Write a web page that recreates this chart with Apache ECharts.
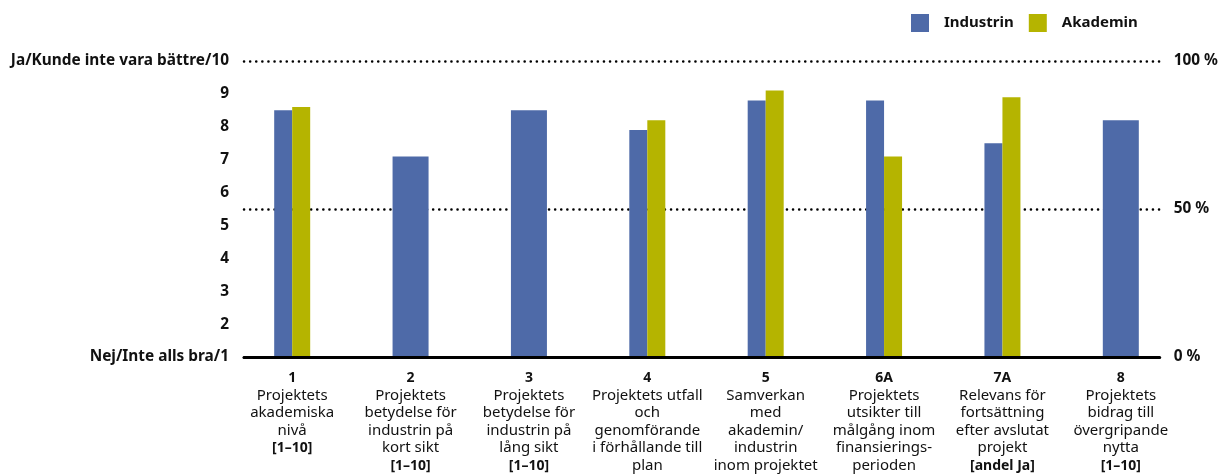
<!DOCTYPE html>
<html lang="sv">
<head>
<meta charset="UTF-8">
<title>Projektbedömning</title>
<style>
  html, body { margin: 0; padding: 0; background: #fff; }
  #chart { width: 1221px; height: 474px; }
</style>
</head>
<body>
<div id="chart"></div>
<script src="https://cdn.jsdelivr.net/npm/echarts@6/dist/echarts.min.js"></script>
<script>
// kategorier
var catNums = ['1', '2', '3', '4', '5', '6A', '7A', '8'];
var catTexts = [
  'Projektets\nakademiska\nnivå',
  'Projektets\nbetydelse för\nindustrin på\nkort sikt',
  'Projektets\nbetydelse för\nindustrin på\nlång sikt',
  'Projektets utfall\noch\ngenomförande\ni förhållande till\nplan',
  'Samverkan\nmed\nakademin/\nindustrin\ninom projektet',
  'Projektets\nutsikter till\nmålgång inom\nfinansierings-\nperioden',
  'Relevans för\nfortsättning\nefter avslutat\nprojekt',
  'Projektets\nbidrag till\növergripande\nnytta'
];
var catScales = ['[1–10]', '[1–10]', '[1–10]', '', '', '', '[andel Ja]', '[1–10]'];

// värden (skala 1-10)
var industrin = [8.5, 7.1, 8.5, 7.9, 8.8, 8.8, 7.5, 8.2];
var akademin = [8.6, null, null, 8.2, 9.1, 7.1, 8.9, null];

// axlar
var leftTicks = { 1: 'Nej/Inte alls bra/1', 10: 'Ja/Kunde inte vara bättre/10' };
var rightTicks = [0, 50, 100];

var blue = '#4e6aa8';
var olive = '#b5b400';
var font = 'Noto Sans';

// industrin delas upp: med akademin bredvid / ensam stapel
var indPair = industrin.map(function (v, i) { return akademin[i] == null ? null : v; });
var indSingle = industrin.map(function (v, i) { return akademin[i] == null ? v : null; });

function catLabel(value, idx) {
  var lines = ['{b|' + catNums[idx] + '}'];
  catTexts[idx].split('\n').forEach(function (t) { lines.push('{t|' + t + '}'); });
  if (catScales[idx]) lines.push('{b|' + catScales[idx] + '}');
  return lines.join('\n');
}

var chart = echarts.init(document.getElementById('chart'));
var option = {
  animation: false,
  textStyle: { fontFamily: font },
  legend: {
    data: ['Industrin', 'Akademin'],
    left: 906,
    top: 9,
    itemWidth: 18,
    itemHeight: 18,
    itemGap: 15,
    icon: 'rect',
    textStyle: { fontFamily: font, fontSize: 15, fontWeight: 'bold', color: '#111', padding: [0, 0, 0, 10] }
  },
  grid: [
    { left: 233, right: 41, top: 61, bottom: 117 },
    { left: 244, right: 58, top: 61, bottom: 117 }
  ],
  xAxis: [
    {
      type: 'category', gridIndex: 0, data: catNums,
      axisLine: { show: false }, axisTick: { show: false },
      axisLabel: {
        interval: 0, margin: 12, formatter: catLabel,
        rich: {
          b: { fontFamily: font, fontSize: 14, fontWeight: 'bold', color: '#111', lineHeight: 17.6 },
          t: { fontFamily: font, fontSize: 15, color: '#111', lineHeight: 17.6 }
        }
      }
    },
    { type: 'category', gridIndex: 0, data: catNums, show: false },
    {
      type: 'value', gridIndex: 1, min: 0, max: 1, z: 10,
      axisLine: { show: true, lineStyle: { color: '#000', width: 3 } },
      axisTick: { show: false }, axisLabel: { show: false }, splitLine: { show: false }
    }
  ],
  yAxis: [
    { type: 'value', gridIndex: 0, min: 1, max: 10, show: false },
    {
      type: 'value', gridIndex: 1, min: 1, max: 10, interval: 1, position: 'left',
      axisLine: { show: false }, axisTick: { show: false }, splitLine: { show: false },
      axisLabel: {
        margin: 15, color: '#111', fontFamily: font, fontSize: 15.4, fontWeight: 'bold',
        formatter: function (v) { return leftTicks[v] || String(v); }
      }
    },
    {
      type: 'value', gridIndex: 1, min: rightTicks[0], max: rightTicks[2], interval: 50, position: 'right',
      axisLine: { show: false }, axisTick: { show: false },
      axisLabel: {
        margin: 14, color: '#111', fontFamily: font, fontSize: 15.4, fontWeight: 'bold',
        formatter: '{value} %'
      },
      splitLine: { show: true, lineStyle: { color: '#000', width: 2.5, type: [0.1, 6], cap: 'round' } }
    }
  ],
  series: [
    {
      name: 'Industrin', type: 'bar', xAxisIndex: 0, yAxisIndex: 0,
      barWidth: 18, barGap: '0%', itemStyle: { color: blue }, data: indPair
    },
    {
      name: 'Akademin', type: 'bar', xAxisIndex: 0, yAxisIndex: 0,
      barWidth: 18, barGap: '0%', itemStyle: { color: olive }, data: akademin
    },
    {
      name: 'Industrin', type: 'bar', xAxisIndex: 1, yAxisIndex: 0,
      barWidth: 36, itemStyle: { color: blue }, data: indSingle
    }
  ]
};
chart.setOption(option);
</script>
</body>
</html>
